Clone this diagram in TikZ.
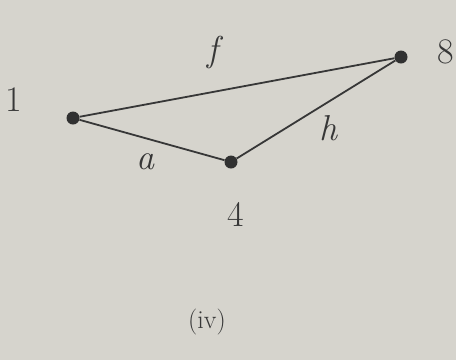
\documentclass[tikz,border=0pt]{standalone}
\usepackage{fontspec}
\definecolor{paper}{RGB}{214,212,205}
\definecolor{ink}{RGB}{55,55,55}
\begin{document}
\begin{tikzpicture}[x=1pt,y=-1pt,
  vtx/.style={circle,fill=ink!90!black,inner sep=0pt,minimum size=13pt},
  edge/.style={draw=ink,line width=1.8pt},
  lbl/.style={text=ink,font=\fontsize{36}{36}\selectfont\itshape},
  num/.style={text=ink,font=\fontsize{36}{36}\selectfont}]
\fill[paper] (0,0) rectangle (456,360);
\useasboundingbox (0,0) rectangle (456,360);
\node[vtx] (v1) at (73,118) {};
\node[vtx] (v4) at (231,162) {};
\node[vtx] (v8) at (401,57) {};
\draw[edge] (v1) -- (v8);
\draw[edge] (v1) -- (v4);
\draw[edge] (v4) -- (v8);
\node[num] (l1) at (14,100) {1};
\node[num] (l4) at (236,214) {4};
\node[num] (l8) at (446,52) {8};
\node[lbl] (ef) at (213,52) {f};
\node[lbl] (eh) at (328,128) {h};
\node[lbl] (ea) at (145,162) {a};
\node[text=ink,font=\fontsize{26}{26}\selectfont] (cap) at (207,322) {(iv)};
\end{tikzpicture}
\end{document}
